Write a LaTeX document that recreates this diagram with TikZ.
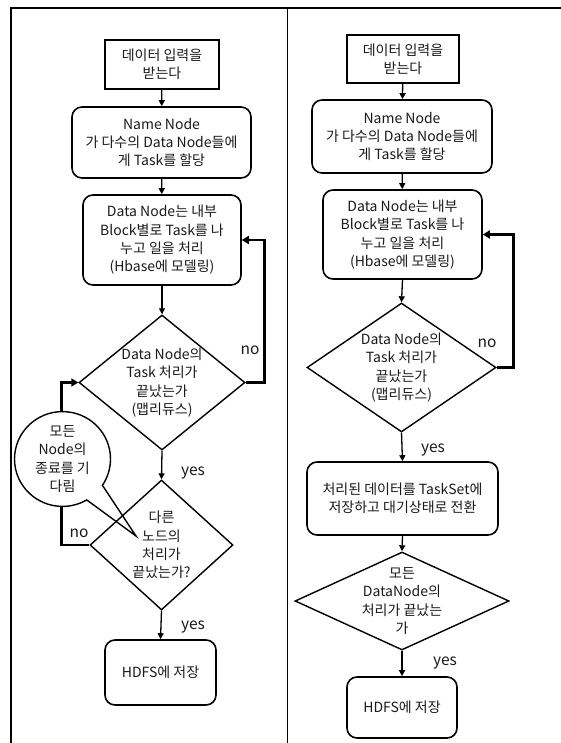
\documentclass[tikz,border=0pt]{standalone}
\usepackage{fontspec}
\setmainfont{Noto Sans CJK KR}
\usetikzlibrary{arrows.meta,shapes.geometric,shapes.callouts}
\pgfdeclarelayer{bg}
\pgfsetlayers{bg,main}

\tikzset{
  plainbox/.style={draw, line width=1.8pt, inner sep=2pt, align=center},
  roundbox/.style={draw, rounded corners=10pt, line width=1.6pt, inner sep=2pt, align=center},
  decision/.style={draw, diamond, line width=1.4pt, inner sep=0pt},
  dtext/.style={align=center, inner sep=0pt},
  flow/.style={-{Triangle[length=6pt,width=6pt]}, line width=1.3pt},
  backloop/.style={-{Triangle[length=7pt,width=8pt]}, line width=2.6pt},
  lbl/.style={font=\fontsize{15.5}{18}\selectfont, inner sep=0pt},
}

\begin{document}
\begin{tikzpicture}[x=1pt, y=-1pt, font=\fontsize{14}{18.3}\selectfont, text=black!90]
\useasboundingbox (0,0) rectangle (561,743);

% table frame
\draw[line width=2pt] (11,743) -- (11,8) -- (561,8);
\draw[line width=1pt] (287,8) -- (287,743);

% ---------- left flow ----------
\node[plainbox, minimum width=114pt, minimum height=49pt] (L1) at (162,64.5) {데이터 입력을\\받는다};
\node[roundbox, minimum width=179pt, minimum height=71pt] (L2) at (161.5,142.5) {Name Node\\가 다수의 Data Node들에\\게 Task를 할당};
\node[roundbox, minimum width=158pt, minimum height=90pt] (L3) at (162,240) {Data Node는 내부\\Block별로 Task를 나\\누고 일을 처리\\(Hbase에 모델링)};
\node[decision, minimum width=166pt, minimum height=135pt] (LD1) at (162,382.5) {};
\node[dtext] (LD1t) at (LD1) {Data Node의\\Task 처리가\\끝났는가\\(맵리듀스)};
\node[roundbox, minimum width=111pt, minimum height=65pt] (L4) at (160.5,672.5) {HDFS에 저장};
\coordinate (LD2c) at (161.5,545);
\coordinate (tip) at (136,536);

\draw[flow] (L1) -- (L2);
\draw[flow] (L2) -- (L3);
\draw[flow] (L3) -- (LD1);
\draw[backloop] (LD1.east) -- ++(19,0) |- (L3.east);
\node[lbl] (noL1) at (250,350) {no};
\node[lbl] (yesL1) at (193,473) {yes};
\node[lbl] (noL2) at (79,533) {no};
\node[lbl] (yesL2) at (193,627) {yes};

% speech bubble over the return line
\node[ellipse callout, draw, fill=white, line width=1.4pt, minimum width=96pt, minimum height=94pt,
      inner sep=0pt, align=center, callout absolute pointer={(tip)}, callout pointer arc=26]
      (bubble) at (62.5,459) {모든\\Node의\\종료를 기\\다림};

\node[decision, minimum width=143pt, minimum height=130pt] (LD2) at (LD2c) {};
\node[dtext] (LD2t) at (LD2) {다른\\노드의\\처리가\\끝났는가?};

\draw[flow] (LD1.south) -- (LD2.north);
\draw[flow] (LD2.south) -- (L4.north);
\begin{pgfonlayer}{bg}
\draw[backloop] (LD2.west) -- ++(-28,0) |- (LD1.west);
\end{pgfonlayer}

% ---------- right flow ----------
\node[plainbox, minimum width=112pt, minimum height=48pt] (R1) at (403,59) {데이터 입력을\\받는다};
\node[roundbox, minimum width=180pt, minimum height=73pt] (R2) at (402,136.5) {Name Node\\가 다수의 Data Node들에\\게 Task를 할당};
\node[roundbox, minimum width=159pt, minimum height=89pt] (R3) at (402.5,234.5) {Data Node는 내부\\Block별로 Task를 나\\누고 일을 처리\\(Hbase에 모델링)};
\node[decision, minimum width=189pt, minimum height=129pt] (RD1) at (401.5,367.5) {};
\node[dtext] (RD1t) at (RD1) {Data Node의\\Task 처리가\\끝났는가\\(맵리듀스)};
\node[roundbox, minimum width=191pt, minimum height=73pt] (R4) at (402.5,498.5) {처리된 데이터를 TaskSet에\\저장하고 대기상태로 전환};
\node[decision, minimum width=214pt, minimum height=98pt] (RD2) at (402,601) {};
\node[dtext] (RD2t) at (RD2) {모든\\DataNode의\\처리가 끝났는\\가};
\node[roundbox, minimum width=110pt, minimum height=61pt] (R5) at (402,707.5) {HDFS에 저장};

\draw[flow] (R1) -- (R2);
\draw[flow] (R2) -- (R3);
\draw[flow] (R3.south) -- (RD1.north);
\draw[flow] (RD1.south) -- (R4.north);
\draw[flow] (R4.south) -- (RD2.north);
\draw[flow] (RD2.south) -- (R5.north);
\draw[backloop] (RD1.east) -- ++(17,0) |- (R3.east);
\node[lbl] (noR1) at (487,343) {no};
\node[lbl] (yesR1) at (433,450) {yes};
\node[lbl] (yesR2) at (445,663) {yes};
\end{tikzpicture}
\end{document}
